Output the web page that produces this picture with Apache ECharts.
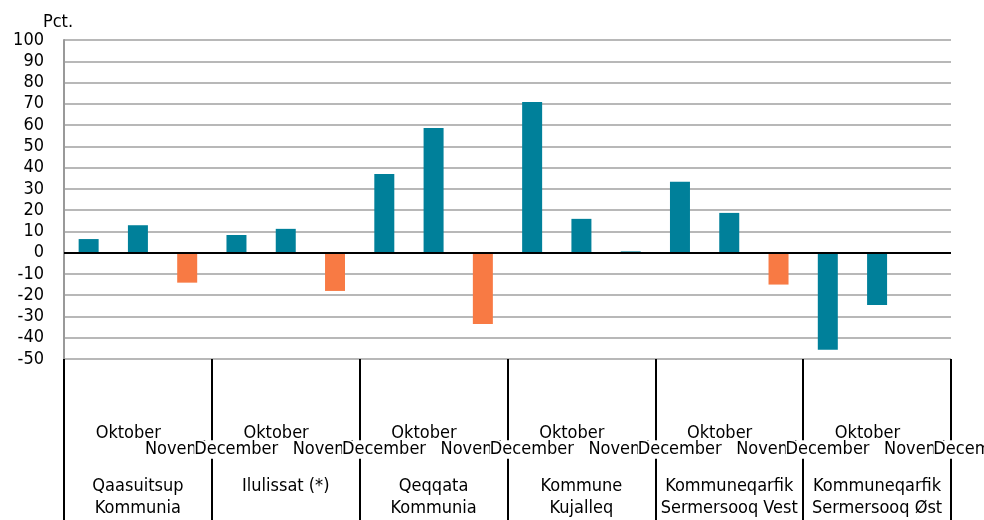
<!DOCTYPE html>
<html>
<head>
<meta charset="utf-8">
<script src="https://cdn.jsdelivr.net/npm/echarts@6/dist/echarts.min.js"></script>
<style>
  html, body { margin: 0; padding: 0; background: #fff; }
  #main { width: 984px; height: 520px; }
</style>
</head>
<body>
<div id="main"></div>
<script>
  // data
  let regions = ['Qaasuitsup\nKommunia', 'Ilulissat (*)', 'Qeqqata\nKommunia', 'Kommune\nKujalleq',
    'Kommuneqarfik\nSermersooq Vest', 'Kommuneqarfik\nSermersooq Øst']
  let months = ['Oktober', 'November', 'December']
  let oktober = [6.4, 8.3, 37, 70.8, 33.3, -45.6]
  let november = [12.9, 11.2, 58.6, 15.9, 18.7, -24.6]
  let december = [-14.1, -18, -33.5, 0.6, -15, null]
  let yTicks = { min: -50, max: 100, step: 10 }

  let font = '"DejaVu Sans Condensed", "Liberation Sans Narrow", "DejaVu Sans", sans-serif'
  let teal = '#00809a'
  let orange = '#f87a44'

  // flatten into 18 categories, month inside region
  let cats = []
  let values = []
  regions.forEach((r, i) => {
    cats.push(months[0], months[1], months[2])
    values.push(oktober[i], november[i], december[i])
  })

  let chart = echarts.init(document.getElementById('main'))

  let labelAxis = (row) => ({
    type: 'category',
    gridIndex: 0,
    position: 'bottom',
    data: cats,
    z: 5,
    axisLine: { show: false },
    axisTick: { show: false },
    splitLine: { show: false },
    axisLabel: {
      interval: 0,
      align: 'left',
      margin: row === 0 ? 63 : 77,
      formatter: (v, idx) => {
        let first = idx % 3 === 0
        if ((row === 0) !== first) return ''
        return '{s|}{t|' + v + '}'
      },
      rich: {
        s: { width: 7 },
        t: {
          fontFamily: font, fontSize: 18, color: '#000',
          lineHeight: row === 0 ? 23 : 27,
          backgroundColor: '#fff'
        }
      }
    }
  })

  let option = {
    animation: false,
    backgroundColor: '#fff',
    grid: { left: 64, right: 33, top: 40, bottom: 161, outerBoundsMode: 'none', containLabel: false },
    xAxis: [
      {
        type: 'category',
        position: 'bottom',
        data: cats,
        axisLine: { show: false },
        axisTick: { show: false },
        axisLabel: { show: false },
        splitLine: { show: false }
      },
      // group separators below the plot
      {
        type: 'value',
        position: 'bottom',
        min: 0,
        max: regions.length,
        interval: 1,
        z: 1,
        axisLine: { show: false },
        axisLabel: { show: false },
        splitLine: { show: false },
        axisTick: { show: true, length: 161, lineStyle: { color: '#000', width: 2 } }
      },
      labelAxis(0),
      labelAxis(1),
      {
        type: 'category',
        position: 'bottom',
        data: regions,
        z: 4,
        axisLine: { show: false },
        axisTick: { show: false },
        splitLine: { show: false },
        axisLabel: {
          interval: 0,
          margin: 116,
          fontFamily: font,
          fontSize: 18,
          lineHeight: 22,
          color: '#000'
        }
      }
    ],
    yAxis: {
      type: 'value',
      min: yTicks.min,
      max: yTicks.max,
      interval: yTicks.step,
      name: 'Pct.',
      nameLocation: 'end',
      nameGap: 9,
      nameTextStyle: { fontFamily: font, fontSize: 18, color: '#000', padding: [0, 12, 0, 0] },
      axisLine: { show: true, lineStyle: { color: '#999', width: 2 } },
      axisTick: { show: false },
      axisLabel: { fontFamily: font, fontSize: 18, color: '#000', margin: 20 },
      splitLine: { lineStyle: { color: '#a0a0a0', width: 1.5 } }
    },
    series: [{
      type: 'bar',
      xAxisIndex: 0,
      data: values,
      barWidth: 20,
      itemStyle: {
        color: (p) => (p.dataIndex % 3 === 2 && p.value < 0) ? orange : teal
      },
      markLine: {
        silent: true,
        symbol: 'none',
        label: { show: false },
        lineStyle: { color: '#000', width: 2, type: 'solid' },
        data: [{ yAxis: 0 }]
      }
    }]
  }
  chart.setOption(option)
</script>
</body>
</html>
